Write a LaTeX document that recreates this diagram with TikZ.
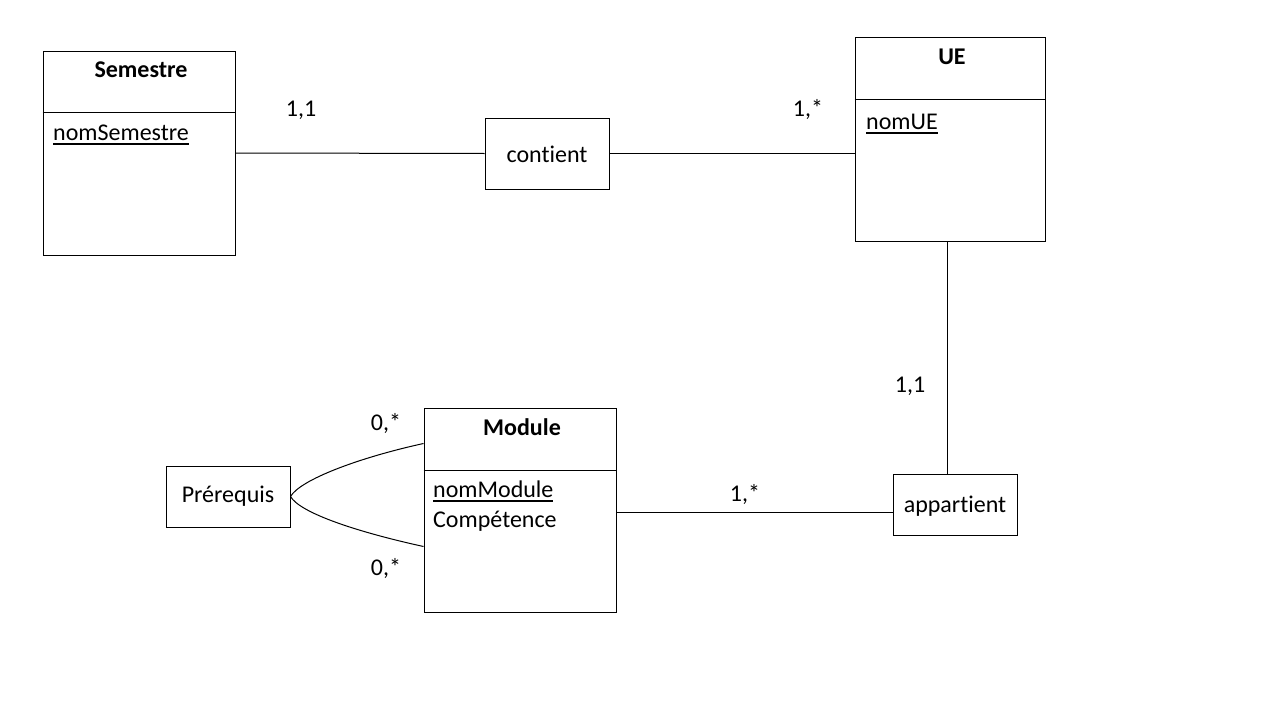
\documentclass[tikz,border=0pt]{standalone}
\usepackage{fontspec}
\setmainfont[Ligatures=NoCommon]{Carlito}
\usetikzlibrary{calc}
\newcommand{\myul}[1]{\setbox0\hbox{#1}\rlap{\rule[-5pt]{\wd0}{1.6pt}}\box0}
\begin{document}
\begin{tikzpicture}[x=1pt,y=-1pt,
  every node/.style={font=\fontsize{24}{28}\selectfont},
  box/.style={draw=black,line width=1pt,inner sep=0pt},
  txt/.style={inner sep=0pt,anchor=base},
  attr/.style={inner sep=0pt,anchor=base west},
  conn/.style={line width=1pt}]
\useasboundingbox (0,0) rectangle (1280,720);
% entities
\node[box,minimum width=192,minimum height=204] (sem) at (139,153) {};
\node[box,minimum width=190,minimum height=204] (ue) at (950,139) {};
\node[box,minimum width=192,minimum height=204] (mod) at (520,510) {};
% relations
\node[box,minimum width=124,minimum height=71] (cont) at (547,153.5) {};
\node[box,minimum width=124,minimum height=61] (app) at (955,504.5) {};
\node[box,minimum width=124,minimum height=61] (pre) at (228,496.5) {};
% dividers
\draw[conn] ($(sem.north west)+(0,62)$) -- ($(sem.north east)+(0,62)$);
\draw[conn] ($(ue.north west)+(0,63)$) -- ($(ue.north east)+(0,63)$);
\draw[conn] ($(mod.north west)+(0,63)$) -- ($(mod.north east)+(0,63)$);
% texts
\node[txt] (tsem) at (141,77) {\textbf{Semestre}};
\node[attr] (asem) at (53,140) {\myul{nomSemestre}};
\node[txt] (tue) at (952,64) {\textbf{UE}};
\node[attr] (aue) at (866,129) {\myul{nomUE}};
\node[txt] (tmod) at (522,435) {\textbf{Module}};
\node[attr] (amod1) at (433,497) {\myul{nomModule}};
\node[attr] (amod2) at (433,527) {Compétence};
\node[txt] (tcont) at (547,162) {contient};
\node[txt] (tapp) at (955,512) {appartient};
\node[txt] (tpre) at (228,502) {Prérequis};
% cardinalities
\node[txt] (c1) at (301,116) {1,1};
\node[txt] (c2) at (808,116) {1,*};
\node[txt] (c3) at (910,392) {1,1};
\node[txt] (c4) at (745,501) {1,*};
\node[txt] (c5) at (386,430) {0,*};
\node[txt] (c6) at (386,575) {0,*};
% connectors
\draw[conn] (sem.east) -- (cont.west);
\draw[conn] (cont.east) -- (ue.west |- cont.east);
\coordinate (vx) at (947,0);
\draw[conn] (ue.south -| vx) -- (app.north -| vx);
\coordinate (hy) at (0,512);
\draw[conn] (mod.east |- hy) -- (app.west |- hy);
\coordinate (mtop) at ($(mod.north west)+(0,36)$);
\coordinate (mbot) at ($(mod.north west)+(0,139)$);
\draw[conn] (pre.east) .. controls ($(pre.east)+(10,-17)$) and ($(mtop)+(-64,14)$) .. (mtop);
\draw[conn] (pre.east) .. controls ($(pre.east)+(10,17)$) and ($(mbot)+(-64,-14)$) .. (mbot);
\end{tikzpicture}
\end{document}
